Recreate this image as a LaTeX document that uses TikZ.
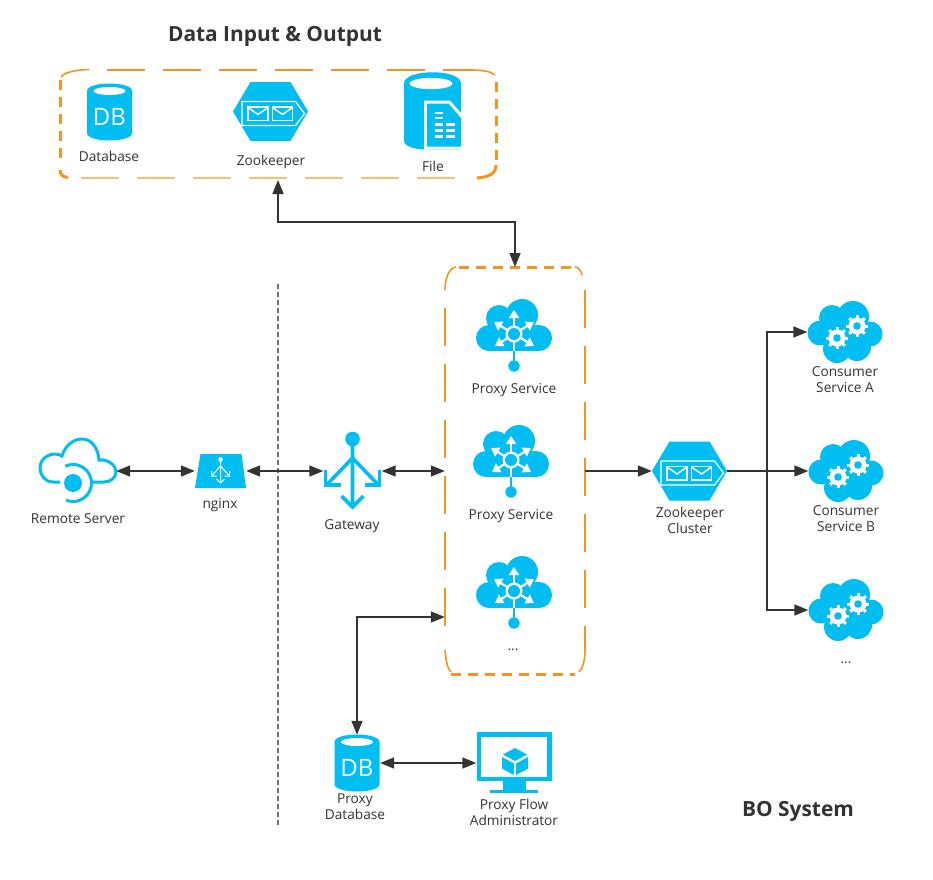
\documentclass[tikz,border=0pt]{standalone}
\usepackage{fontspec}
\setmainfont{Open Sans}
\usetikzlibrary{positioning,arrows.meta}
\definecolor{iconblue}{HTML}{00BEF2}
\definecolor{linegray}{HTML}{333333}
\definecolor{boxorange}{HTML}{F6921E}
\tikzset{
  spot/.style={inner sep=0pt, minimum width=#1},
  iconlabel/.style={font=\fontsize{13.7}{16}\selectfont, text=linegray, align=center, inner sep=0pt},
  heading/.style={font=\fontsize{20.9}{24}\selectfont\bfseries, text=linegray, inner sep=0pt},
  link/.style={draw=linegray, line width=1.6pt, -{Triangle[length=14pt,width=11pt]}},
  biglink/.style={link, {Triangle[length=14pt,width=11pt]}-{Triangle[length=14pt,width=11pt]}},
  thinedge/.style={draw=boxorange, line width=1.2pt, dash pattern=on 38pt off 18pt},
  paleedge/.style={thinedge, draw=boxorange!60},
  thickedge/.style={draw=boxorange, line width=3pt, dash pattern=on 10pt off 7pt},
  corneredge/.style={draw=boxorange, line width=1.6pt},
  pics/dbicon/.style={code={
    \fill[iconblue] (-22.5,-21) .. controls (-22.5,-31) and (22.5,-31) .. (22.5,-21) -- (22.5,21)
      .. controls (22.5,31) and (-22.5,31) .. (-22.5,21) -- cycle;
    \fill[white] (0,-21) ellipse (16 and 4);
    \node[text=white, inner sep=0pt, font=\fontsize{24}{24}\selectfont] at (0,5) {DB};
  }},
  pics/mqicon/.style={code={
    \fill[iconblue] (-37.5,0) -- (-20,-29.5) -- (20,-29.5) -- (37.5,0) -- (20,29.5) -- (-20,29.5) -- cycle;
    \draw[white, line width=1.2pt] (-28.5,-10) -- (25,-10) -- (34,2) -- (25,14) -- (-28.5,14) -- cycle;
    \foreach \envx in {-22.5,2} {
      \draw[white, line width=1.4pt] (\envx,-4.5) rectangle ++(20,13.5);
      \draw[white, line width=1.4pt] (\envx,-4) -- ++(10,7) -- ++(10,-7);
    }
  }},
  pics/proxyicon/.style={code={
    \fill[iconblue] (-25,4) circle (13);
    \fill[iconblue] (25,4) circle (13);
    \fill[iconblue] (-15,-16) circle (13);
    \fill[iconblue] (8,-19) circle (16);
    \fill[iconblue] (-25,4) rectangle (25,17);
    \fill[iconblue] (-18,-12) rectangle (16,6);
    \fill[iconblue] (14,-9) rectangle (24,6);
    \draw[iconblue, line width=1.8pt] (0,17) -- (0,28);
    \fill[iconblue] (0,32) circle (5.7);
    \draw[white, line width=2pt] (0,0) -- (0,17);
    \foreach \tipx/\tipy in {0/-24,-20/-12,20/-12,-19/12,20/12} {
      \draw[white, line width=2.2pt, -{Triangle[length=8pt,width=10pt]}] (0,0) -- (\tipx,\tipy);
    }
    \fill[white] (0,0) circle (8.5);
    \fill[iconblue] (0,0) circle (6);
  }},
  pics/gearicon/.style={code={
    \foreach \ang in {0,45,...,315} {
      \draw[white, line width=3pt] (0,0) -- (\ang:11pt);
    }
    \fill[white] (0,0) circle (8.5);
    \fill[iconblue] (0,0) circle (3.8);
  }},
  pics/consumericon/.style={code={
    \fill[iconblue] (-25,1) circle (12.5);
    \fill[iconblue] (25,2) circle (12.5);
    \fill[iconblue] (-13,-14) circle (13);
    \fill[iconblue] (8,-15) circle (16);
    \fill[iconblue] (-8,17) circle (14);
    \fill[iconblue] (12,15) circle (14);
    \fill[iconblue] (-15,-10) rectangle (20,15);
    \pic at (-8,6) {gearicon};
    \pic at (12,-6) {gearicon};
  }},
  pics/fileicon/.style={code={
    \fill[iconblue] (-29,-28) .. controls (-29,-43) and (28,-43) .. (28,-28) -- (28,38) -- (-8,38)
      .. controls (-18,38) and (-29,35) .. (-29,29) -- cycle;
    \fill[white] (-2,-28) ellipse (21.5 and 5.7);
    \fill[white] (-9,-11) -- (17,-11) -- (31,5) -- (31,38) -- (-9,38) -- cycle;
    \fill[iconblue] (-6,-8) -- (15.5,-8) -- (28,6.5) -- (28,35) -- (-6,35) -- cycle;
    \draw[white, line width=1.8pt] (2,1.8) -- (10,1.8) (2,6.8) -- (10,6.8);
    \draw[white, line width=2.4pt] (2,12.8) -- (10,12.8) (13,12.8) -- (22,12.8) (2,18.8) -- (10,18.8)
      (13,18.8) -- (22,18.8) (2,24.8) -- (10,24.8) (13,24.8) -- (22,24.8);
  }},
  pics/servericon/.style={code={
    \draw[iconblue, line width=3pt] (-13,-1) -- (-20,-1) .. controls (-28,-1) and (-33,-8) .. (-33,-15)
      .. controls (-33,-23) and (-26,-29) .. (-18,-29) .. controls (-15,-29) and (-13,-28) .. (-11,-27)
      .. controls (-8,-37) and (0,-44) .. (9,-44) .. controls (18,-44) and (25,-36) .. (26,-23)
      .. controls (36,-24) and (43,-17) .. (43,-11) .. controls (43,-5) and (37,-1) .. (31,-1) -- (19,-1);
    \draw[iconblue, line width=3pt] (115:18.5pt) arc[start angle=115, end angle=-112, radius=18.5pt];
    \fill[iconblue] (0,0) circle (9);
  }},
  pics/nginxicon/.style={code={
    \fill[iconblue] (-20,-17) -- (21,-17) -- (25.5,17) -- (-25.5,17) -- cycle;
    \draw[white, line width=1pt] (0,-11) -- (0,12) (-4,8) -- (0,12) -- (4,8);
    \draw[white, line width=1pt] (0,-5) -- (-9,5) (-9,0) -- (-9,5) -- (-4,5) (0,-5) -- (9,5) (9,0) -- (9,5) -- (4,5);
    \fill[white] (0,-11.5) circle (2.3);
  }},
  pics/gatewayicon/.style={code={
    \fill[iconblue] (0,-32) circle (7.3);
    \draw[iconblue, line width=3.6pt] (0,-28) -- (0,34) (-11,25) -- (0,36) -- (11,25);
    \draw[iconblue, line width=3.6pt] (0,-13) -- (-25,13) (0,-13) -- (25,13);
    \draw[iconblue, line width=3.6pt] (-27,-1) -- (-27,14) -- (-12,14) (27,-1) -- (27,14) -- (12,14);
  }},
  pics/monitoricon/.style={code={
    \fill[iconblue] (-37.5,-31) rectangle (37.5,18);
    \fill[iconblue] (-11,18) rectangle (12,28);
    \fill[iconblue] (-24,27) rectangle (24,30);
    \fill[white] (-33.5,-26.5) rectangle (33,14);
    \fill[iconblue] (1,-15) -- (13,-8.5) -- (1,-2) -- (-11,-8.5) -- cycle;
    \fill[iconblue] (-12,-6) -- (0,0.5) -- (0,12) -- (-12,5.5) -- cycle;
    \fill[iconblue] (14,-6) -- (2,0.5) -- (2,12) -- (14,5.5) -- cycle;
  }},
}
\begin{document}
\begin{tikzpicture}[x=1pt, y=-1pt]
  \useasboundingbox (0,0) rectangle (933,879);
  \fill[white] (0,0) rectangle (933,879);

  % headings
  \node[heading] (inputtitle) at (275,36.5) {Data Input \& Output};
  \node[heading] (systemtitle) at (798,811.5) {BO System};

  % group boxes
  \node[spot=436pt, minimum height=108pt] (inputbox) at (278,124) {};
  \node[spot=140pt, minimum height=406pt] (proxybox) at (515,471) {};
  \draw[corneredge] (61,77) .. controls (65,72) and (75,70) .. (89,69.5);
  \draw[thinedge] (107,70) -- (470,70);
  \draw[corneredge] (470,70) .. controls (482,70) and (490,71) .. (495,75);
  \draw[paleedge] (81,178) -- (462,178);
  \draw[thickedge] (60,80) -- (60,165);
  \draw[thickedge, solid] (60,170) .. controls (60,175) and (63,177) .. (68,177.5);
  \draw[thickedge] (496,82) -- (496,165);
  \draw[thickedge, solid] (496,165) .. controls (496,173) and (490,177) .. (477,178);
  \draw[corneredge] (445,290) .. controls (445,278) and (449,268) .. (456,267);
  \draw[thickedge] (459,267) -- (575,267);
  \draw[corneredge] (575,267) .. controls (578,267) and (581,270) .. (582,275);
  \draw[thinedge] (445,308) -- (445,640);
  \draw[thinedge] (585,290) -- (585,650);
  \draw[corneredge] (445,650) .. controls (446,660) and (447,668) .. (451,672);
  \draw[thickedge] (451,674) -- (575,674);
  \draw[corneredge] (585,650) .. controls (585,660) and (583,668) .. (579,672);

  % divider
  \draw[linegray!70, line width=1.2pt, dash pattern=on 5pt off 3pt] (278,284) -- (278,827);

  % icon spots
  \node[spot=45pt, minimum height=56pt] (database) at (109.5,112) {};
  \node[spot=75pt, minimum height=59pt] (zookeeper) at (270.5,111.5) {};
  \node[spot=58pt, minimum height=78pt] (file) at (433,111.5) {};
  \node[spot=76pt, minimum height=45pt] (remote) at (78,471) {};
  \node[spot=51pt, minimum height=34pt] (nginx) at (220.5,471) {};
  \node[spot=58pt, minimum height=70pt] (gateway) at (352.5,471) {};
  \node[spot=75pt, minimum height=59pt] (cluster) at (689.5,471) {};
  \node[spot=75pt, minimum height=62pt] (consumerA) at (845,332) {};
  \node[spot=75pt, minimum height=62pt] (consumerB) at (846,471) {};
  \node[spot=75pt, minimum height=62pt] (consumerC) at (846,610) {};
  \node[spot=46pt, minimum height=56pt] (proxydb) at (357,763) {};
  \node[spot=75pt, minimum height=61pt] (admin) at (514,763) {};
  \coordinate (inputport) at (278,180);
  \coordinate (branch) at (767,471);

  \pic at (database) {dbicon};
  \pic at (zookeeper) {mqicon};
  \pic at (file) {fileicon};
  \pic at (73,483) {servericon};
  \pic at (nginx) {nginxicon};
  \pic at (gateway) {gatewayicon};
  \pic at (514,334) {proxyicon};
  \pic at (511,460) {proxyicon};
  \pic at (514,591) {proxyicon};
  \pic at (cluster) {mqicon};
  \pic at (consumerA) {consumericon};
  \pic at (consumerB) {consumericon};
  \pic at (consumerC) {consumericon};
  \pic at (proxydb) {dbicon};
  \pic at (admin) {monitoricon};

  % labels
  \node[iconlabel] (databaselabel) at (109,156) {Database};
  \node[iconlabel] (zookeeperlabel) at (271,162) {Zookeeper};
  \node[iconlabel] (filelabel) at (433,166) {File};
  \node[iconlabel] (remotelabel) at (78,519) {Remote Server};
  \node[iconlabel] (nginxlabel) at (220,505) {nginx};
  \node[iconlabel] (gatewaylabel) at (352,526) {Gateway};
  \node[iconlabel] (proxylabelA) at (514,390) {Proxy Service};
  \node[iconlabel] (proxylabelB) at (511,516) {Proxy Service};
  \node[iconlabel] (proxylabelC) at (513,650) {...};
  \node[iconlabel] (clusterlabel) at (690,520) {Zookeeper\\Cluster};
  \node[iconlabel] (consumerlabelA) at (845,380) {Consumer\\Service A};
  \node[iconlabel] (consumerlabelB) at (846,519) {Consumer\\Service B};
  \node[iconlabel] (consumerlabelC) at (846,663) {...};
  \node[iconlabel] (proxydblabel) at (355,807) {Proxy\\Database};
  \node[iconlabel] (adminlabel) at (514,812) {Proxy Flow\\Administrator};

  % connectors
  \draw[biglink] (inputport) -- (278,222) -- (515,222) -- (515,267);
  \draw[biglink] (remote.east) -- (nginx.west);
  \draw[biglink] (nginx.east) -- (gateway.west);
  \draw[biglink] (gateway.east) -- (proxybox.west);
  \draw[link] (proxybox.east) -- (cluster.west);
  \draw[link] (cluster.east) -- (consumerB.west);
  \draw[link] (branch) |- (consumerA.west);
  \draw[link] (branch) |- (consumerC.west);
  \draw[biglink] (proxydb.north) |- (proxybox.west |- 0,617);
  \draw[biglink] (proxydb.east) -- (admin.west);
\end{tikzpicture}
\end{document}
